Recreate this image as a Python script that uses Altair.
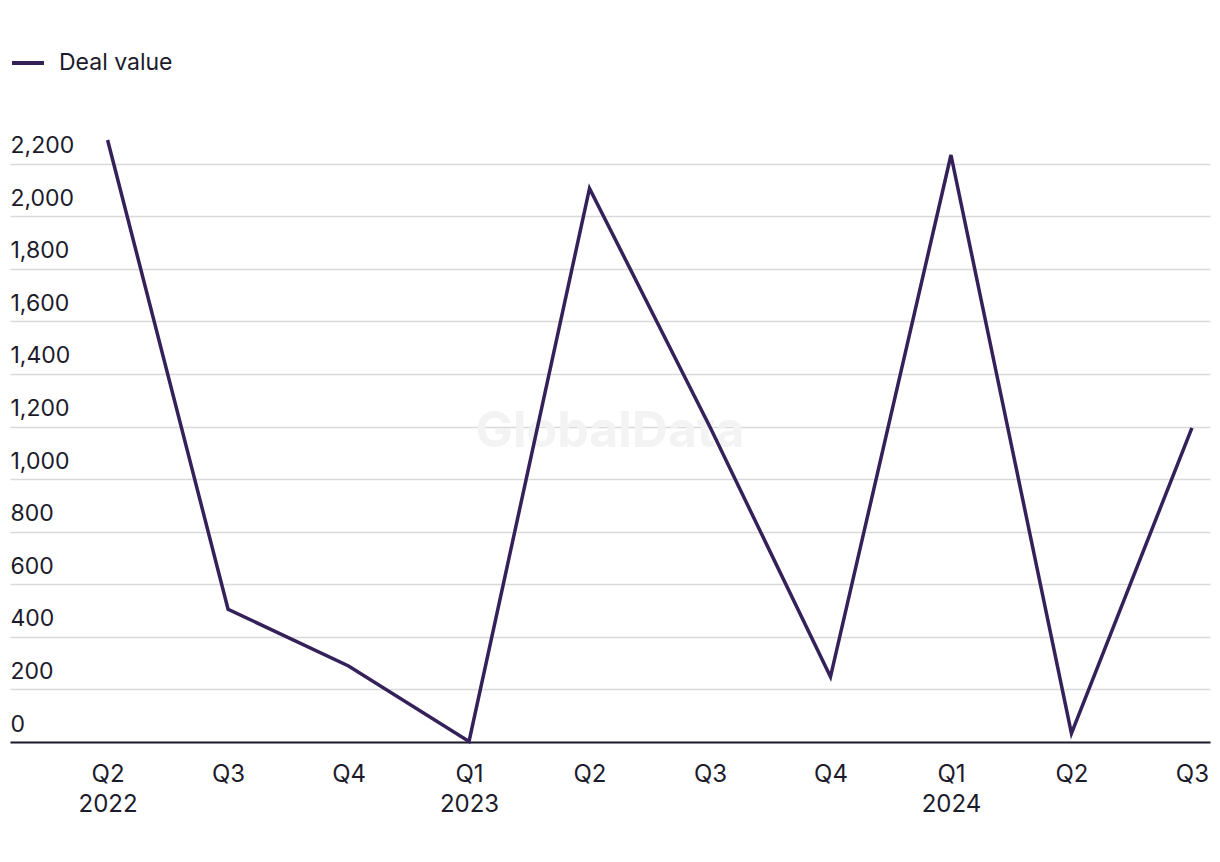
import altair as alt
import pandas as pd

periods = ["Q2 2022", "Q3 2022", "Q4 2022", "Q1 2023", "Q2 2023",
           "Q3 2023", "Q4 2023", "Q1 2024", "Q2 2024", "Q3 2024"]
tick_labels = [["Q2", "2022"], ["Q3"], ["Q4"], ["Q1", "2023"], ["Q2"],
               ["Q3"], ["Q4"], ["Q1", "2024"], ["Q2"], ["Q3"]]
deal_value = [2290, 505, 289, 2, 2106, 1198, 248, 2233, 33, 1195]
y_ticks = [0, 200, 400, 600, 800, 1000, 1200, 1400, 1600, 1800, 2000, 2200]
series_name = "Deal value"

df = pd.DataFrame({"period": periods, "idx": list(range(len(periods))),
                   "value": deal_value, "series": series_name})

FONT = "Inter"
TEXT = "#1c1b2b"
LINE = "#35215a"

label_expr = "[" + ",".join(
    "[" + ",".join("'" + s + "'" for s in lab) + "]" for lab in tick_labels
) + "][datum.value]"

line = alt.Chart(df).mark_line(strokeWidth=3.5, strokeJoin="miter").encode(
    x=alt.X("idx:Q",
            scale=alt.Scale(domain=[-0.81, 9.15], nice=False, zero=False),
            axis=alt.Axis(title=None, labelExpr=label_expr, labelAngle=0,
                          values=list(range(len(periods))),
                          ticks=False, domain=True, domainColor=TEXT,
                          domainWidth=2, labelPadding=20, labelFontSize=24,
                          labelLineHeight=30, labelColor=TEXT, labelFont=FONT,
                          grid=False, labelBaseline="top", labelFlush=False,
                          labelOverlap=False)),
    y=alt.Y("value:Q",
            scale=alt.Scale(domain=[0, 2290], nice=False, zero=True),
            axis=alt.Axis(title=None, values=y_ticks, format=",d",
                          ticks=False, domain=False, grid=True,
                          gridColor="#d9d9d9", gridWidth=1.5,
                          labelAlign="left", labelPadding=0, labelOffset=-11,
                          labelBaseline="alphabetic", labelFontSize=23,
                          labelColor=TEXT, labelFont=FONT)),
    color=alt.Color("series:N",
                    scale=alt.Scale(domain=[series_name], range=[LINE]),
                    legend=alt.Legend(title=None, orient="none", legendX=0,
                                      legendY=-95, symbolType="stroke",
                                      symbolSize=1024, symbolStrokeWidth=4,
                                      labelFontSize=23, labelFont=FONT,
                                      labelColor=TEXT, labelOffset=13)),
)

watermark = alt.Chart(pd.DataFrame({"t": ["GlobalData"]})).mark_text(
    fontSize=50, fontWeight="bold", font=FONT, color="#f3f3f3",
    align="center", baseline="middle"
).encode(text="t:N", x=alt.value(600), y=alt.value(292))

chart = alt.layer(watermark, line).properties(
    width=1200, height=602,
    autosize=alt.AutoSizeParams(type="none"),
    padding={"left": 10, "top": 140, "right": 10, "bottom": 120},
    background="white",
).configure_view(stroke=None)

chart.save("out.html", embed_options={"renderer": "svg", "actions": False})
